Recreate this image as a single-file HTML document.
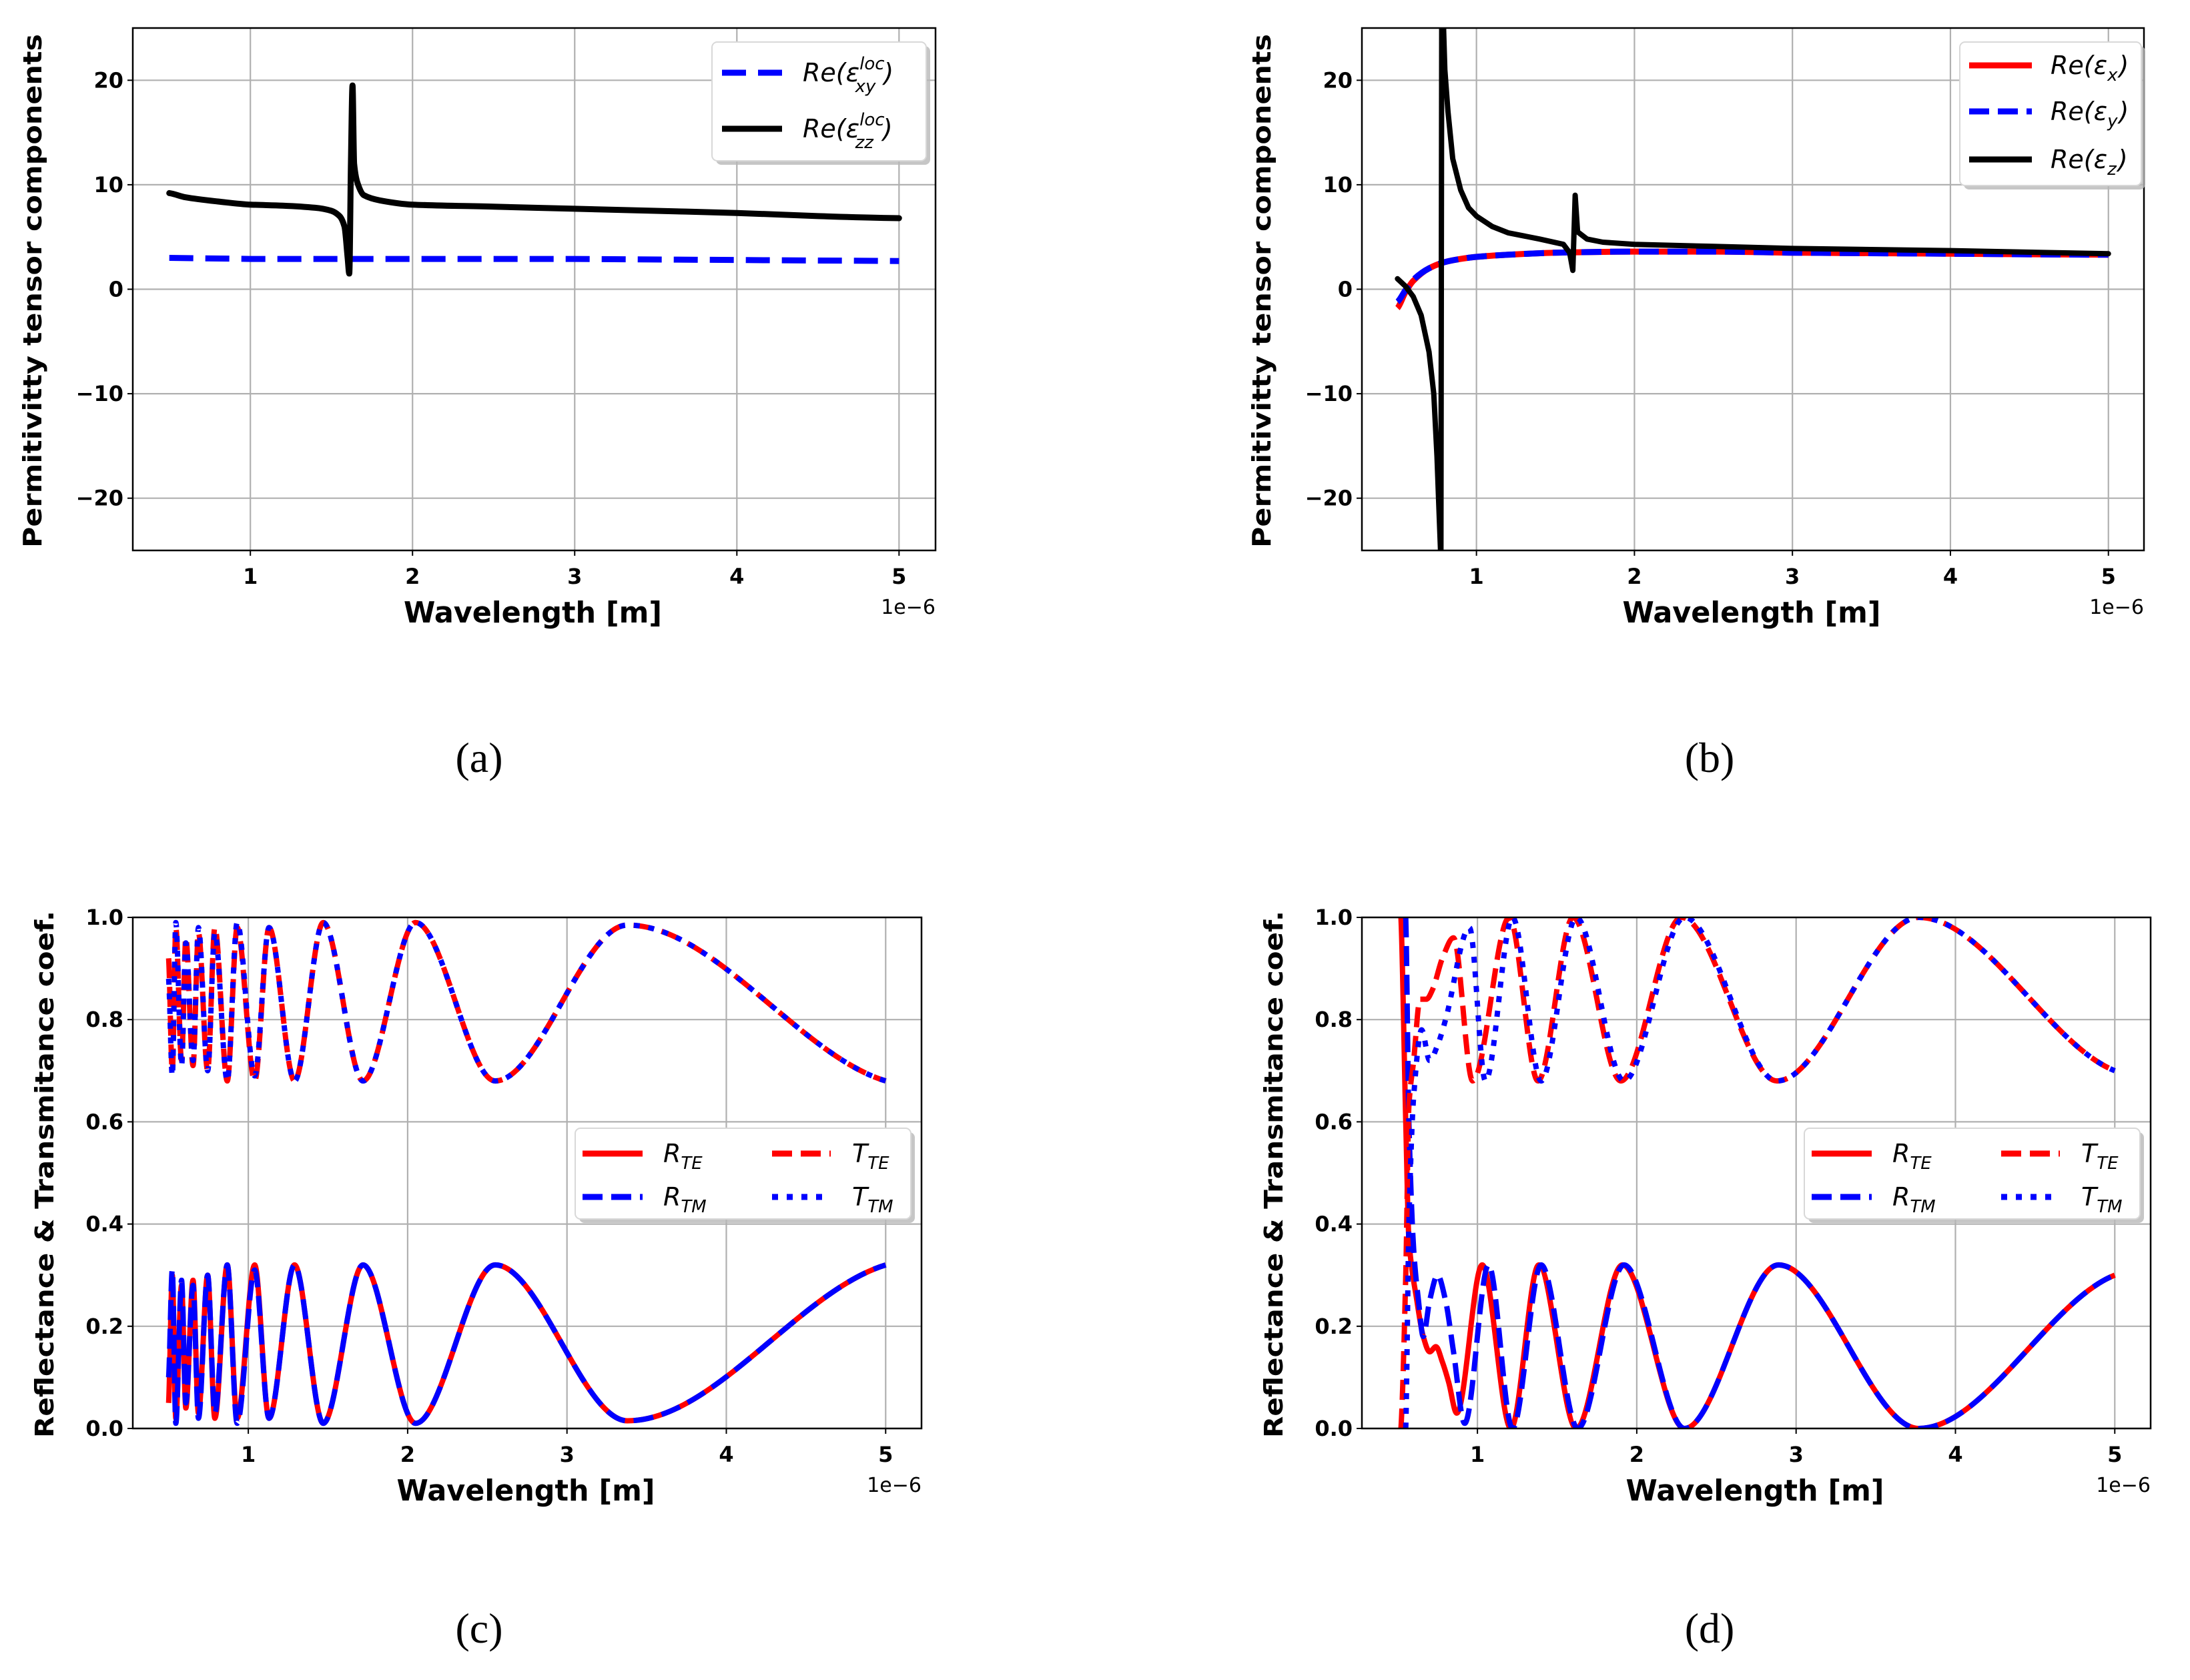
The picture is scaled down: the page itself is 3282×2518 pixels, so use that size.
<!DOCTYPE html>
<html><head><meta charset="utf-8"><style>
html,body{margin:0;padding:0;background:#fff}
svg{display:block}
.tick{font-family:"DejaVu Sans","Liberation Sans",sans-serif;font-weight:bold;font-size:32px;fill:#000}
.axlab{font-family:"DejaVu Sans","Liberation Sans",sans-serif;font-weight:bold;fill:#000}
.leg{font-family:"DejaVu Sans","Liberation Sans",sans-serif;font-style:italic;font-size:38px;fill:#000}
.cap{font-family:"Liberation Serif",serif;font-size:64px;fill:#000}
</style></head><body>
<svg id="fig" xmlns="http://www.w3.org/2000/svg" width="3282" height="2518" viewBox="0 0 3282 2518"></svg>
<script>
// ---- Panel (a) data ----
const aX = [0.5,0.6,0.8,1.0,1.2,1.4,1.5,1.55,1.58,1.6,1.61,1.62,1.63,1.64,1.66,1.7,1.8,2.0,2.5,3.0,3.5,4.0,4.5,5.0];
const aZZ = [9.2,8.8,8.4,8.1,8.0,7.8,7.5,7.0,6.0,3.0,1.5,12,19.5,12,10.2,9.0,8.5,8.1,7.9,7.7,7.5,7.3,7.0,6.8];
const aXYx = [0.5,1,2,3,4,5];
const aXY = [3.0,2.9,2.9,2.9,2.8,2.7];
// ---- Panel (b) data ----
const bXx = [0.5,0.55,0.6,0.7,0.8,0.9,1.0,1.2,1.5,2.0,2.5,3,4,5];
const bEX = [-1.8,-0.3,0.8,2.0,2.6,2.9,3.1,3.3,3.5,3.6,3.6,3.5,3.4,3.3];
const bEY = [-1.2,-0.1,0.9,2.0,2.6,2.9,3.1,3.3,3.5,3.6,3.6,3.5,3.4,3.3];
const bZx = [0.5,0.55,0.6,0.65,0.7,0.73,0.75,0.765,0.775,0.78,0.79,0.8,0.82,0.85,0.9,0.95,1.0,1.1,1.2,1.4,1.55,1.59,1.61,1.625,1.64,1.7,1.8,2.0,2.5,3,4,5];
const bEZ = [1.0,0.3,-0.7,-2.5,-6,-10,-16,-22,-26,26,26,21,17,12.5,9.5,7.8,7.0,6.0,5.4,4.8,4.3,3.5,1.8,9.0,5.5,4.8,4.5,4.3,4.1,3.9,3.7,3.4];
// ---- Panel (c) data ----
const cX = [0.5,0.523,0.545,0.581,0.608,0.653,0.687,0.745,0.79,0.868,0.93,1.04,1.13,1.29,1.47,1.72,2.05,2.55,3.38,5.0];
const cRTE = [0.05,0.3,0.02,0.28,0.04,0.29,0.03,0.3,0.02,0.32,0.02,0.32,0.02,0.32,0.01,0.32,0.01,0.32,0.015,0.32];
const cRTM = [0.1,0.31,0.01,0.29,0.05,0.28,0.02,0.3,0.03,0.32,0.01,0.31,0.02,0.32,0.01,0.32,0.01,0.32,0.015,0.32];
const cTTE = [0.92,0.7,0.98,0.72,0.96,0.71,0.97,0.7,0.98,0.68,0.98,0.68,0.98,0.68,0.99,0.68,0.99,0.68,0.985,0.68];
const cTTM = [0.88,0.69,0.99,0.71,0.95,0.72,0.98,0.7,0.97,0.68,0.99,0.69,0.98,0.68,0.99,0.68,0.99,0.68,0.985,0.68];
// ---- Panel (d) data ----
const dRTEx = [0.52,0.55,0.57,0.62,0.66,0.7,0.74,0.78,0.82,0.87,1.03,1.21,1.385,1.62,1.91,2.3,2.89,3.77,5.0];
const dRTE = [1.0,0.6,0.37,0.25,0.18,0.15,0.16,0.13,0.09,0.03,0.32,0,0.32,0,0.32,0,0.32,0,0.30];
const dRTMx = [0.55,0.57,0.6,0.63,0.66,0.7,0.75,0.8,0.85,0.92,1.07,1.22,1.4,1.63,1.92,2.3,2.89,3.77,5.0];
const dRTM = [1.0,0.6,0.35,0.25,0.18,0.25,0.3,0.25,0.15,0.01,0.32,0,0.32,0,0.32,0,0.32,0,0.30];
const dTTEx = [0.52,0.55,0.57,0.6,0.64,0.68,0.72,0.78,0.85,0.97,1.2,1.38,1.6,1.9,2.28,2.88,3.77,5.0];
const dTTE = [0,0.3,0.63,0.72,0.84,0.84,0.86,0.92,0.96,0.68,1.0,0.68,1.0,0.68,1.0,0.68,1.0,0.70];
const dTTMx = [0.55,0.57,0.6,0.65,0.7,0.75,0.8,0.95,1.05,1.22,1.4,1.62,1.92,2.3,2.88,3.77,5.0];
const dTTM = [0,0.4,0.65,0.78,0.72,0.75,0.8,0.98,0.68,1.0,0.68,1.0,0.68,1.0,0.68,1.0,0.70];
// ---- Tick labels ----
const xTicks = [1,2,3,4,5];
const yTicksAB = [-20,-10,0,10,20];
const yTicksCD = [0,0.2,0.4,0.6,0.8,1.0];
const yTickLabelsCD = ["0.0","0.2","0.4","0.6","0.8","1.0"];

const NS = "http://www.w3.org/2000/svg";
const fig = document.getElementById('fig');
function el(tag, attrs, parent){
  const e = document.createElementNS(NS, tag);
  for (const k in attrs) e.setAttribute(k, attrs[k]);
  (parent||fig).appendChild(e);
  return e;
}
const defs = el('defs',{});

function sx(p,x){return p.x0+(x-p.xmin)/(p.xmax-p.xmin)*(p.x1-p.x0);}
function sy(p,y){return p.y1-(y-p.ymin)/(p.ymax-p.ymin)*(p.y1-p.y0);}

function linePath(p,xs,ys){
  return xs.map((x,i)=>(i?'L':'M')+sx(p,x).toFixed(1)+' '+sy(p,ys[i]).toFixed(1)).join(' ');
}
function smoothPath(p,xs,ys){
  const X = xs.map(x=>sx(p,x)), Y = ys.map(y=>sy(p,y)), n=X.length;
  const d=[]; for(let i=0;i<n-1;i++) d.push((Y[i+1]-Y[i])/(X[i+1]-X[i]));
  const m=[];
  for(let i=0;i<n;i++){
    if(i===0) m.push(d[0]*0.5);
    else if(i===n-1) m.push(d[n-2]*0.5);
    else if(d[i-1]*d[i]<=0) m.push(0);
    else m.push(2/(1/d[i-1]+1/d[i]));
  }
  let s='M'+X[0].toFixed(1)+' '+Y[0].toFixed(1);
  for(let i=0;i<n-1;i++){
    const h=(X[i+1]-X[i])/3;
    s+=' C'+(X[i]+h).toFixed(1)+' '+(Y[i]+m[i]*h).toFixed(1)+' '+(X[i+1]-h).toFixed(1)+' '+(Y[i+1]-m[i+1]*h).toFixed(1)+' '+X[i+1].toFixed(1)+' '+Y[i+1].toFixed(1);
  }
  return s;
}

function panel(p){
  const g = el('g',{});
  
  
  xTicks.forEach(t=>{
    const l = el('line',{x1:sx(p,t),x2:sx(p,t),y1:p.y0,y2:p.y1,stroke:'#b0b0b0','stroke-width':2.2},g);
    
    
  });
  p.yt.forEach(t=>{
    const l = el('line',{x1:p.x0,x2:p.x1,y1:sy(p,t),y2:sy(p,t),stroke:'#b0b0b0','stroke-width':2.2},g);
    
    
  });
  xTicks.forEach(t=>{
    el('line',{x1:sx(p,t),x2:sx(p,t),y1:p.y1,y2:p.y1+8,stroke:'#000','stroke-width':2},g);
    const tx = el('text',{x:sx(p,t),y:p.y1+50,'text-anchor':'middle',class:'tick'},g);
    tx.textContent = String(t);
    
    
  });
  p.yt.forEach((t,i)=>{
    el('line',{x1:p.x0-8,x2:p.x0,y1:sy(p,t),y2:sy(p,t),stroke:'#000','stroke-width':2},g);
    const tx = el('text',{x:p.x0-14,y:sy(p,t)+11,'text-anchor':'end',class:'tick'},g);
    tx.textContent = p.ytl[i];
    
    
  });
  const cp = el('clipPath',{id:'clip-'+p.name},defs);
  el('rect',{x:p.x0,y:p.y0,width:p.x1-p.x0,height:p.y1-p.y0},cp);
  const sg = el('g',{'clip-path':'url(#clip-'+p.name+')'},g);
  p.series.forEach(s=>{
    const d = s.smooth ? smoothPath(p,s.x,s.y) : linePath(p,s.x,s.y);
    const path = el('path',{d:d,fill:'none',stroke:s.c,'stroke-width':s.w,'stroke-linejoin':'round','stroke-linecap':s.cap||'butt'},sg);
    if(s.dash) path.setAttribute('stroke-dasharray',s.dash);
    
    
  });
  el('rect',{x:p.x0,y:p.y0,width:p.x1-p.x0,height:p.y1-p.y0,fill:'none',stroke:'#000','stroke-width':2.5},g);
  const xl = el('text',{x:(p.x0+p.x1)/2-2,y:p.y1+108,'text-anchor':'middle',class:'axlab','font-size':44,textLength:387,lengthAdjust:'spacingAndGlyphs'},g);
  xl.textContent='Wavelength [m]';
  
  
  const off = el('text',{x:p.x1,y:p.y1+95,'text-anchor':'end',style:'font-family:"DejaVu Sans",sans-serif;font-size:30px;font-weight:normal'},g);
  off.textContent='1e\u22126';
  
  
  const yl = el('text',{x:0,y:0,'text-anchor':'middle',class:'axlab','font-size':38,transform:'translate('+p.ylx+','+p.ylc+') rotate(-90)',textLength:p.yll,lengthAdjust:'spacingAndGlyphs'},g);
  yl.textContent=p.ylabel;
  
  
  return g;
}

function legend(g, box, entries){
  const lg = el('g',{},g);
  
  
  el('rect',{x:box[0]+6,y:box[1]+6,width:box[2],height:box[3],rx:8,fill:'#b8b8b8',opacity:0.8},lg);
  el('rect',{x:box[0],y:box[1],width:box[2],height:box[3],rx:8,fill:'#fff',stroke:'#d8d8d8','stroke-width':2},lg);
  entries.forEach(e=>{
    const ln = el('line',{x1:e.lx0,x2:e.lx1,y1:e.y,y2:e.y,stroke:e.c,'stroke-width':e.w},lg);
    if(e.dash) ln.setAttribute('stroke-dasharray',e.dash);
    const t = el('text',{x:e.tx,y:e.y+13,class:'leg'},lg);
    t.innerHTML = e.html;
    
    
  });
}

const DASH='30 13', DOT='9 13';
const pa = {name:'panel-a',x0:199,x1:1402,y0:42,y1:825,xmin:0.275,xmax:5.225,ymin:-25,ymax:25,
  yt:yTicksAB, ytl:yTicksAB.map(v=>v<0?'\u2212'+(-v):String(v)),
  ylabel:'Permitivitty tensor components', ylx:62, ylc:436, yll:770,
  series:[{name:'re-eps-xy-loc',x:aXYx,y:aXY,c:'#0000ff',w:9,dash:'36 18'},
          {name:'re-eps-zz-loc',x:aX,y:aZZ,c:'#000',w:9,cap:'round',smooth:true}]};
const ga = panel(pa);
legend(ga,[1067,63,321,178],[
  {lx0:1082,lx1:1172,y:109,c:'#0000ff',w:9,dash:'36 18',tx:1203,html:'Re(ε<tspan font-size="26" dy="-18">loc</tspan><tspan font-size="26" dx="-44" dy="34">xy</tspan><tspan dx="12" dy="-16">)</tspan>'},
  {lx0:1082,lx1:1172,y:193,c:'#000',w:9,tx:1203,html:'Re(ε<tspan font-size="26" dy="-18">loc</tspan><tspan font-size="26" dx="-44" dy="34">zz</tspan><tspan dx="14" dy="-16">)</tspan>'}]);

const pb = {name:'panel-b',x0:2041,x1:3213,y0:42,y1:825,xmin:0.275,xmax:5.225,ymin:-25,ymax:25,
  yt:yTicksAB, ytl:yTicksAB.map(v=>v<0?'\u2212'+(-v):String(v)),
  ylabel:'Permitivitty tensor components', ylx:1904, ylc:436, yll:770,
  series:[{name:'re-eps-x',x:bXx,y:bEX,c:'#ff0000',w:9,smooth:true},
          {name:'re-eps-y',x:bXx,y:bEY,c:'#0000ff',w:9,dash:DASH,smooth:true},
          {name:'re-eps-z',x:bZx,y:bEZ,c:'#000',w:8,cap:'round'}]};
const gb = panel(pb);
legend(gb,[2937,63,272,215],[
  {lx0:2951,lx1:3045,y:98,c:'#ff0000',w:9,tx:3073,html:'Re(ε<tspan font-size="26" dy="10">x</tspan><tspan dx="2" dy="-10">)</tspan>'},
  {lx0:2951,lx1:3045,y:167,c:'#0000ff',w:9,dash:DASH,tx:3073,html:'Re(ε<tspan font-size="26" dy="10">y</tspan><tspan dx="2" dy="-10">)</tspan>'},
  {lx0:2951,lx1:3045,y:239,c:'#000',w:9,tx:3073,html:'Re(ε<tspan font-size="26" dy="10">z</tspan><tspan dx="2" dy="-10">)</tspan>'}]);

function rtSeries(rx,r1,r1x,r2,t1x,t1,t2x,t2){
  return [{name:'r-te',x:rx,y:r1,c:'#ff0000',w:8,smooth:true},
          {name:'r-tm',x:r1x,y:r2,c:'#0000ff',w:8,dash:DASH,smooth:true},
          {name:'t-te',x:t1x,y:t1,c:'#ff0000',w:8,dash:DASH,smooth:true},
          {name:'t-tm',x:t2x,y:t2,c:'#0000ff',w:8,dash:DOT,smooth:true}];
}
const pc = {name:'panel-c',x0:199,x1:1381,y0:1375,y1:2141,xmin:0.275,xmax:5.225,ymin:0,ymax:1,
  yt:yTicksCD, ytl:yTickLabelsCD,
  ylabel:'Reflectance & Transmitance coef.', ylx:80, ylc:1760, yll:790,
  series:rtSeries(cX,cRTE,cX,cRTM,cX,cTTE,cX,cTTM)};
const gc = panel(pc);
function rtLegend(g,dx){
  legend(g,[862+dx,1691,503,136],[
    {lx0:873+dx,lx1:963+dx,y:1729,c:'#ff0000',w:9,tx:994+dx,html:'R<tspan font-size="26" dy="10">TE</tspan>'},
    {lx0:873+dx,lx1:963+dx,y:1794,c:'#0000ff',w:9,dash:DASH,tx:994+dx,html:'R<tspan font-size="26" dy="10">TM</tspan>'},
    {lx0:1157+dx,lx1:1245+dx,y:1729,c:'#ff0000',w:9,dash:DASH,tx:1277+dx,html:'T<tspan font-size="26" dy="10">TE</tspan>'},
    {lx0:1157+dx,lx1:1245+dx,y:1794,c:'#0000ff',w:9,dash:DOT,tx:1277+dx,html:'T<tspan font-size="26" dy="10">TM</tspan>'}]);
}
rtLegend(gc,0);

const pd = {name:'panel-d',x0:2041,x1:3223,y0:1375,y1:2141,xmin:0.275,xmax:5.225,ymin:0,ymax:1,
  yt:yTicksCD, ytl:yTickLabelsCD,
  ylabel:'Reflectance & Transmitance coef.', ylx:1922, ylc:1760, yll:790,
  series:rtSeries(dRTEx,dRTE,dRTMx,dRTM,dTTEx,dTTE,dTTMx,dTTM)};
const gd = panel(pd);
rtLegend(gd,1842);

[['(a)',718,1157],['(b)',2562,1157],['(c)',718,2462],['(d)',2562,2462]].forEach(c=>{
  const t = el('text',{x:c[1],y:c[2],'text-anchor':'middle',class:'cap'});
  t.textContent=c[0];
  
  
});
</script>
</body></html>
